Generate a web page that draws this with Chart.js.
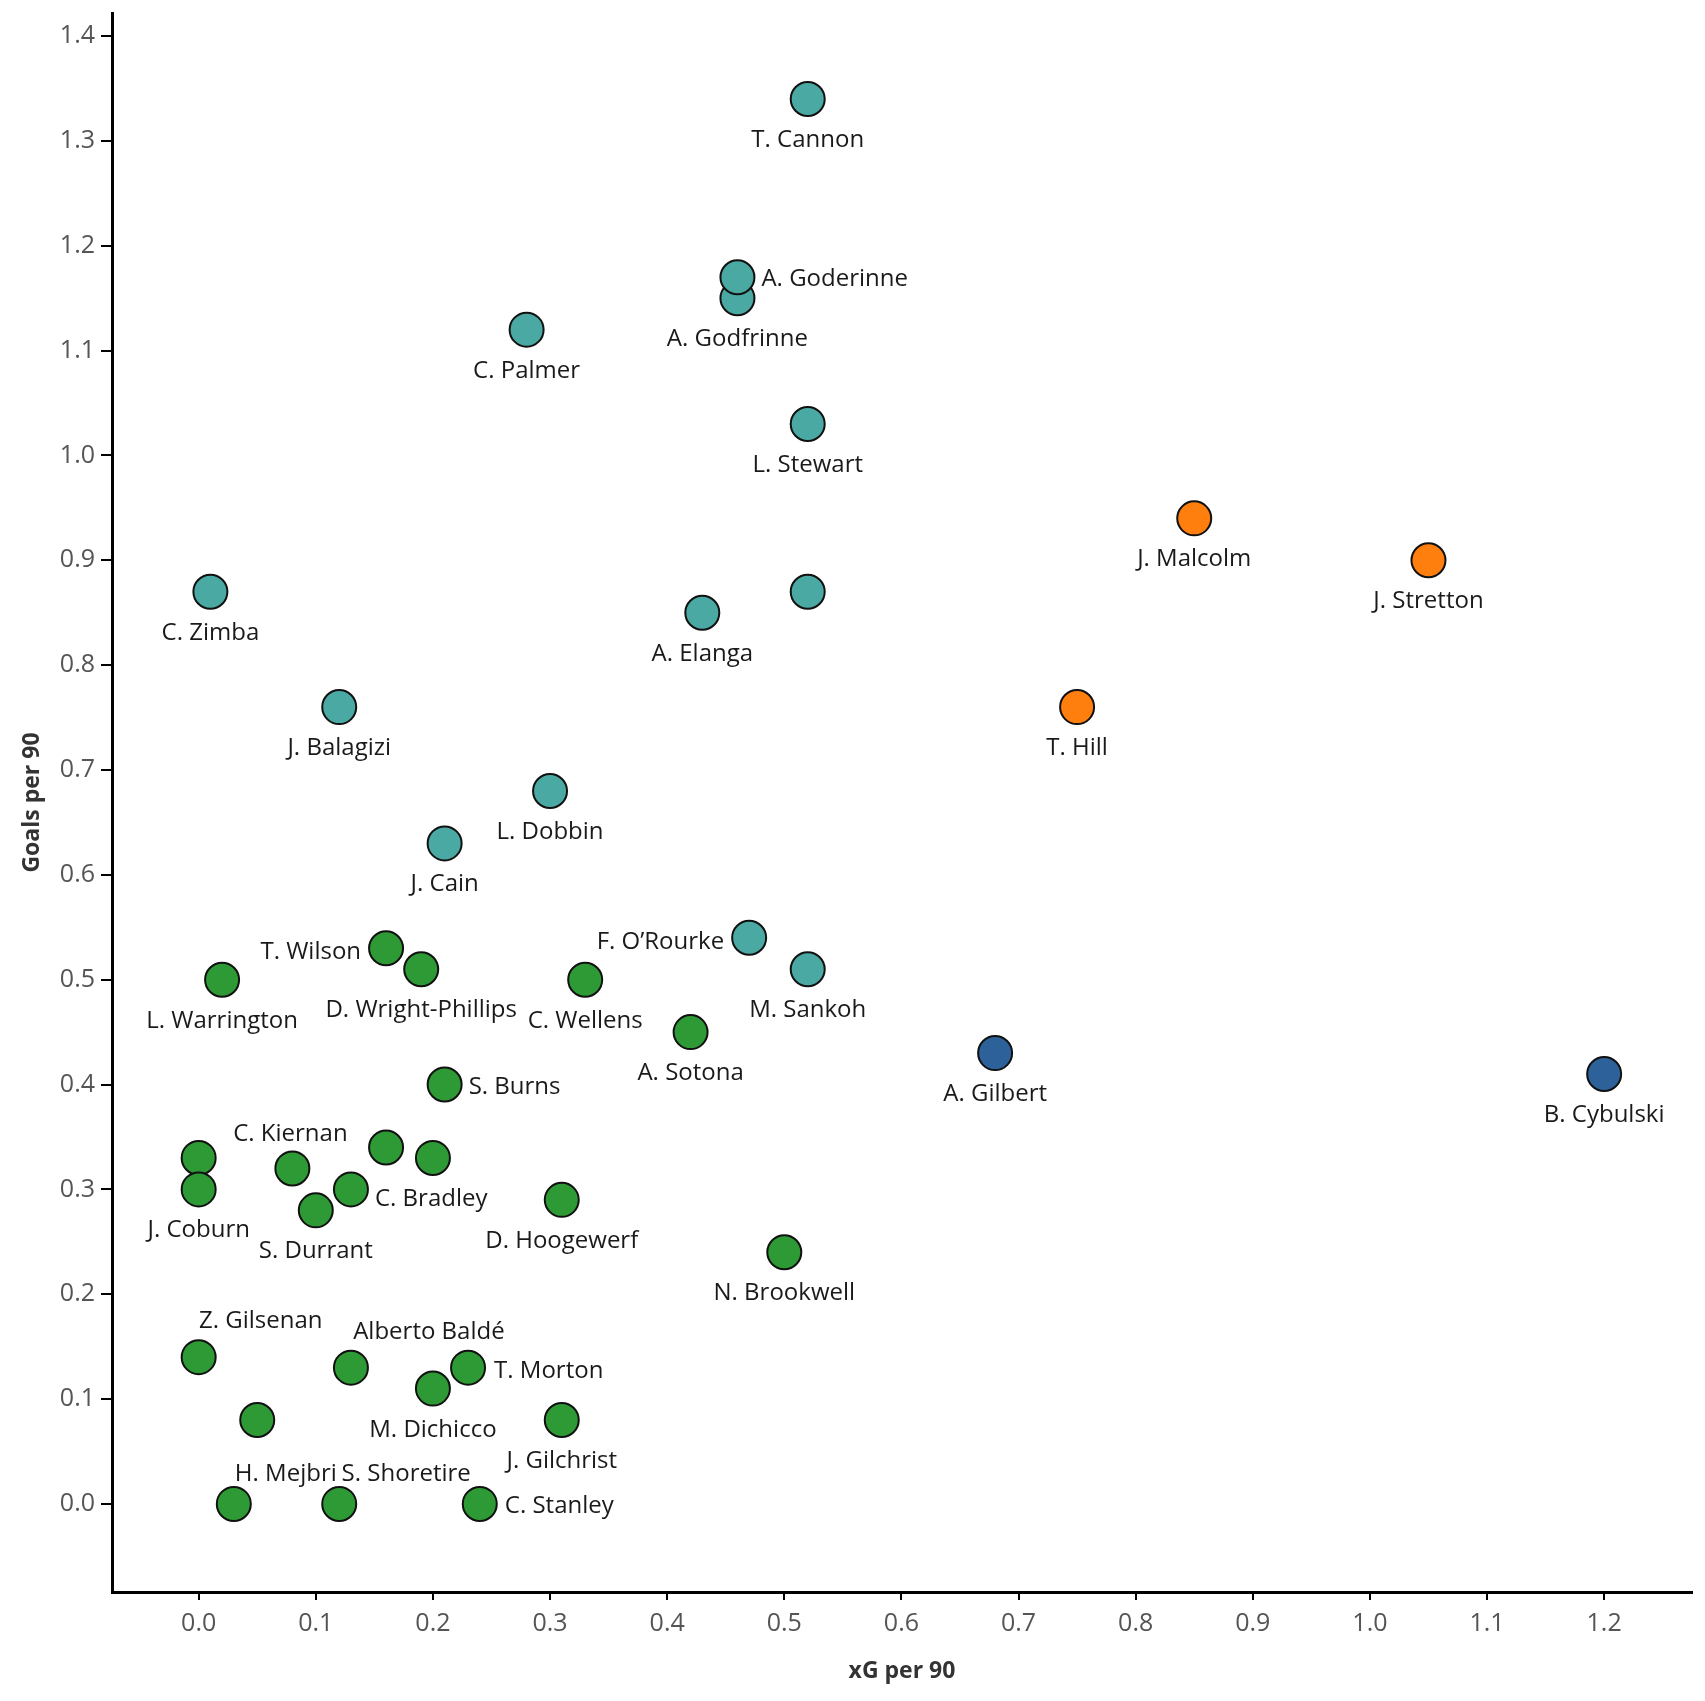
<!DOCTYPE html>
<html>
<head>
<meta charset="utf-8">
<script src="https://cdn.jsdelivr.net/npm/chart.js@4.4.1/dist/chart.umd.min.js"></script>
<style>
  html, body { margin: 0; padding: 0; background: #fff; }
  #wrap { width: 1705px; height: 1701px; position: relative; }
</style>
</head>
<body>
<div id="wrap"><canvas id="c"></canvas></div>
<script>
// ---------- DATA ----------
const tealNames = ['T. Cannon', 'A. Godfrinne', 'A. Goderinne', 'C. Palmer', 'L. Stewart', 'C. Zimba', 'A. Elanga', '', 'J. Balagizi', 'L. Dobbin', 'J. Cain', 'F. O\u2019Rourke', 'M. Sankoh'];
const tealXG    = [0.52, 0.46, 0.46, 0.28, 0.52, 0.01, 0.43, 0.52, 0.12, 0.30, 0.21, 0.47, 0.52];
const tealGoals = [1.34, 1.15, 1.17, 1.12, 1.03, 0.87, 0.85, 0.87, 0.76, 0.68, 0.63, 0.54, 0.51];

const greenNames = ['T. Wilson', 'D. Wright-Phillips', 'L. Warrington', 'C. Wellens', 'A. Sotona', 'S. Burns', '', 'C. Kiernan', '', '', 'J. Coburn', 'S. Durrant', 'C. Bradley', 'D. Hoogewerf', 'N. Brookwell', 'Z. Gilsenan', 'Alberto Bald\u00e9', 'M. Dichicco', 'T. Morton', '', 'J. Gilchrist', 'H. Mejbri', 'S. Shoretire', 'C. Stanley'];
const greenXG    = [0.16, 0.19, 0.02, 0.33, 0.42, 0.21, 0.00, 0.08, 0.16, 0.20, 0.00, 0.10, 0.13, 0.31, 0.50, 0.00, 0.13, 0.20, 0.23, 0.05, 0.31, 0.03, 0.12, 0.24];
const greenGoals = [0.53, 0.51, 0.50, 0.50, 0.45, 0.40, 0.33, 0.32, 0.34, 0.33, 0.30, 0.28, 0.30, 0.29, 0.24, 0.14, 0.13, 0.11, 0.13, 0.08, 0.08, 0.00, 0.00, 0.00];

const orangeNames = ['J. Malcolm', 'J. Stretton', 'T. Hill'];
const orangeXG    = [0.85, 1.05, 0.75];
const orangeGoals = [0.94, 0.90, 0.76];

const blueNames = ['A. Gilbert', 'B. Cybulski'];
const blueXG    = [0.68, 1.20];
const blueGoals = [0.43, 0.41];

const xTicks = [0.0, 0.1, 0.2, 0.3, 0.4, 0.5, 0.6, 0.7, 0.8, 0.9, 1.0, 1.1, 1.2];
const yTicks = [0.0, 0.1, 0.2, 0.3, 0.4, 0.5, 0.6, 0.7, 0.8, 0.9, 1.0, 1.1, 1.2, 1.3, 1.4];
const xTitle = 'xG per 90';
const yTitle = 'Goals per 90';

// ---------- STYLE / LABEL PLACEMENT ----------
const COLORS = { teal: '#4aa9a2', green: '#2e9a35', orange: '#ff7f0e', blue: '#2d6199' };
// placement: [kind, extra dx, extra dy] in pixels relative to the point
const placement = {
  'A. Goderinne': ['right', 0, 0],
  'F. O\u2019Rourke': ['left', 0, 2],
  'T. Wilson': ['left', 0, 2],
  'S. Burns': ['right', 0, 0],
  'C. Kiernan': ['above', -2, 0],
  'C. Bradley': ['right', 0, 8],
  'Z. Gilsenan': ['above', 62, -2],
  'Alberto Bald\u00e9': ['above', 78, -2],
  'T. Morton': ['right', 2, 1],
  'H. Mejbri': ['above', 52, 4],
  'S. Shoretire': ['above', 67, 4],
  'C. Stanley': ['right', 1, 0]
};

function pts(xs, ys) { return xs.map((x, i) => ({ x: x, y: ys[i] })); }

function ds(names, xs, ys, color) {
  return {
    names: names,
    data: pts(xs, ys),
    backgroundColor: color,
    borderColor: '#111111',
    borderWidth: 2,
    pointRadius: 17,
    pointHoverRadius: 17,
    pointHoverBorderWidth: 2
  };
}

const labelPlugin = {
  id: 'pointLabels',
  afterDatasetsDraw(chart) {
    const ctx = chart.ctx;
    ctx.save();
    ctx.font = '24px "Open Sans"';
    ctx.fillStyle = '#1a1a1a';
    ctx.textBaseline = 'alphabetic';
    chart.data.datasets.forEach((d, di) => {
      const meta = chart.getDatasetMeta(di);
      meta.data.forEach((el, i) => {
        const name = d.names[i];
        if (!name) return;
        const p = placement[name] || ['below', 0, 0];
        let x = el.x, y = el.y;
        if (p[0] === 'below') { ctx.textAlign = 'center'; y += 48; }
        else if (p[0] === 'above') { ctx.textAlign = 'center'; y -= 27; }
        else if (p[0] === 'right') { ctx.textAlign = 'left'; x += 24; y += 9; }
        else if (p[0] === 'left') { ctx.textAlign = 'right'; x -= 25; y += 9; }
        ctx.fillText(name, x + p[1], y + p[2]);
      });
    });
    ctx.restore();
  }
};

const tickFont = { family: '"Open Sans"', size: 25 };
const titleFont = { family: '"Open Sans"', size: 23, weight: 'bold' };

new Chart(document.getElementById('c'), {
  type: 'scatter',
  data: {
    datasets: [
      ds(tealNames, tealXG, tealGoals, COLORS.teal),
      ds(greenNames, greenXG, greenGoals, COLORS.green),
      ds(orangeNames, orangeXG, orangeGoals, COLORS.orange),
      ds(blueNames, blueXG, blueGoals, COLORS.blue)
    ]
  },
  options: {
    responsive: true,
    maintainAspectRatio: false,
    animation: false,
    events: [],
    layout: { autoPadding: false, padding: { top: 13, right: 13, left: 0, bottom: 0 } },
    plugins: { legend: { display: false }, tooltip: { enabled: false } },
    scales: {
      x: {
        type: 'linear',
        min: -0.074,
        max: 1.275,
        afterFit(scale) { scale.height = 109; scale.paddingLeft = 0; scale.paddingRight = 0; },
        afterBuildTicks(scale) { scale.ticks = xTicks.map(v => ({ value: v })); },
        border: { display: true, color: '#000', width: 3 },
        grid: { display: true, drawOnChartArea: false, drawTicks: true, tickLength: 8, color: '#000', lineWidth: 2 },
        ticks: { font: tickFont, color: '#555', padding: 9, maxRotation: 0, autoSkip: false, callback: v => Number(v).toFixed(1) },
        title: { display: true, text: xTitle, font: titleFont, color: '#333', padding: { top: 0, bottom: 16 } }
      },
      y: {
        type: 'linear',
        min: -0.084,
        max: 1.422,
        afterFit(scale) { scale.width = 112; scale.paddingTop = 0; scale.paddingBottom = 0; },
        afterBuildTicks(scale) { scale.ticks = yTicks.map(v => ({ value: v })); },
        border: { display: true, color: '#000', width: 3 },
        grid: { display: true, drawOnChartArea: false, drawTicks: true, tickLength: 11, color: '#000', lineWidth: 2 },
        ticks: { font: tickFont, color: '#555', padding: 6, autoSkip: false, callback: v => Number(v).toFixed(1) },
        title: { display: true, text: yTitle, font: titleFont, color: '#333', padding: { top: 19, bottom: 0 } }
      }
    }
  },
  plugins: [labelPlugin]
});
</script>
</body>
</html>
